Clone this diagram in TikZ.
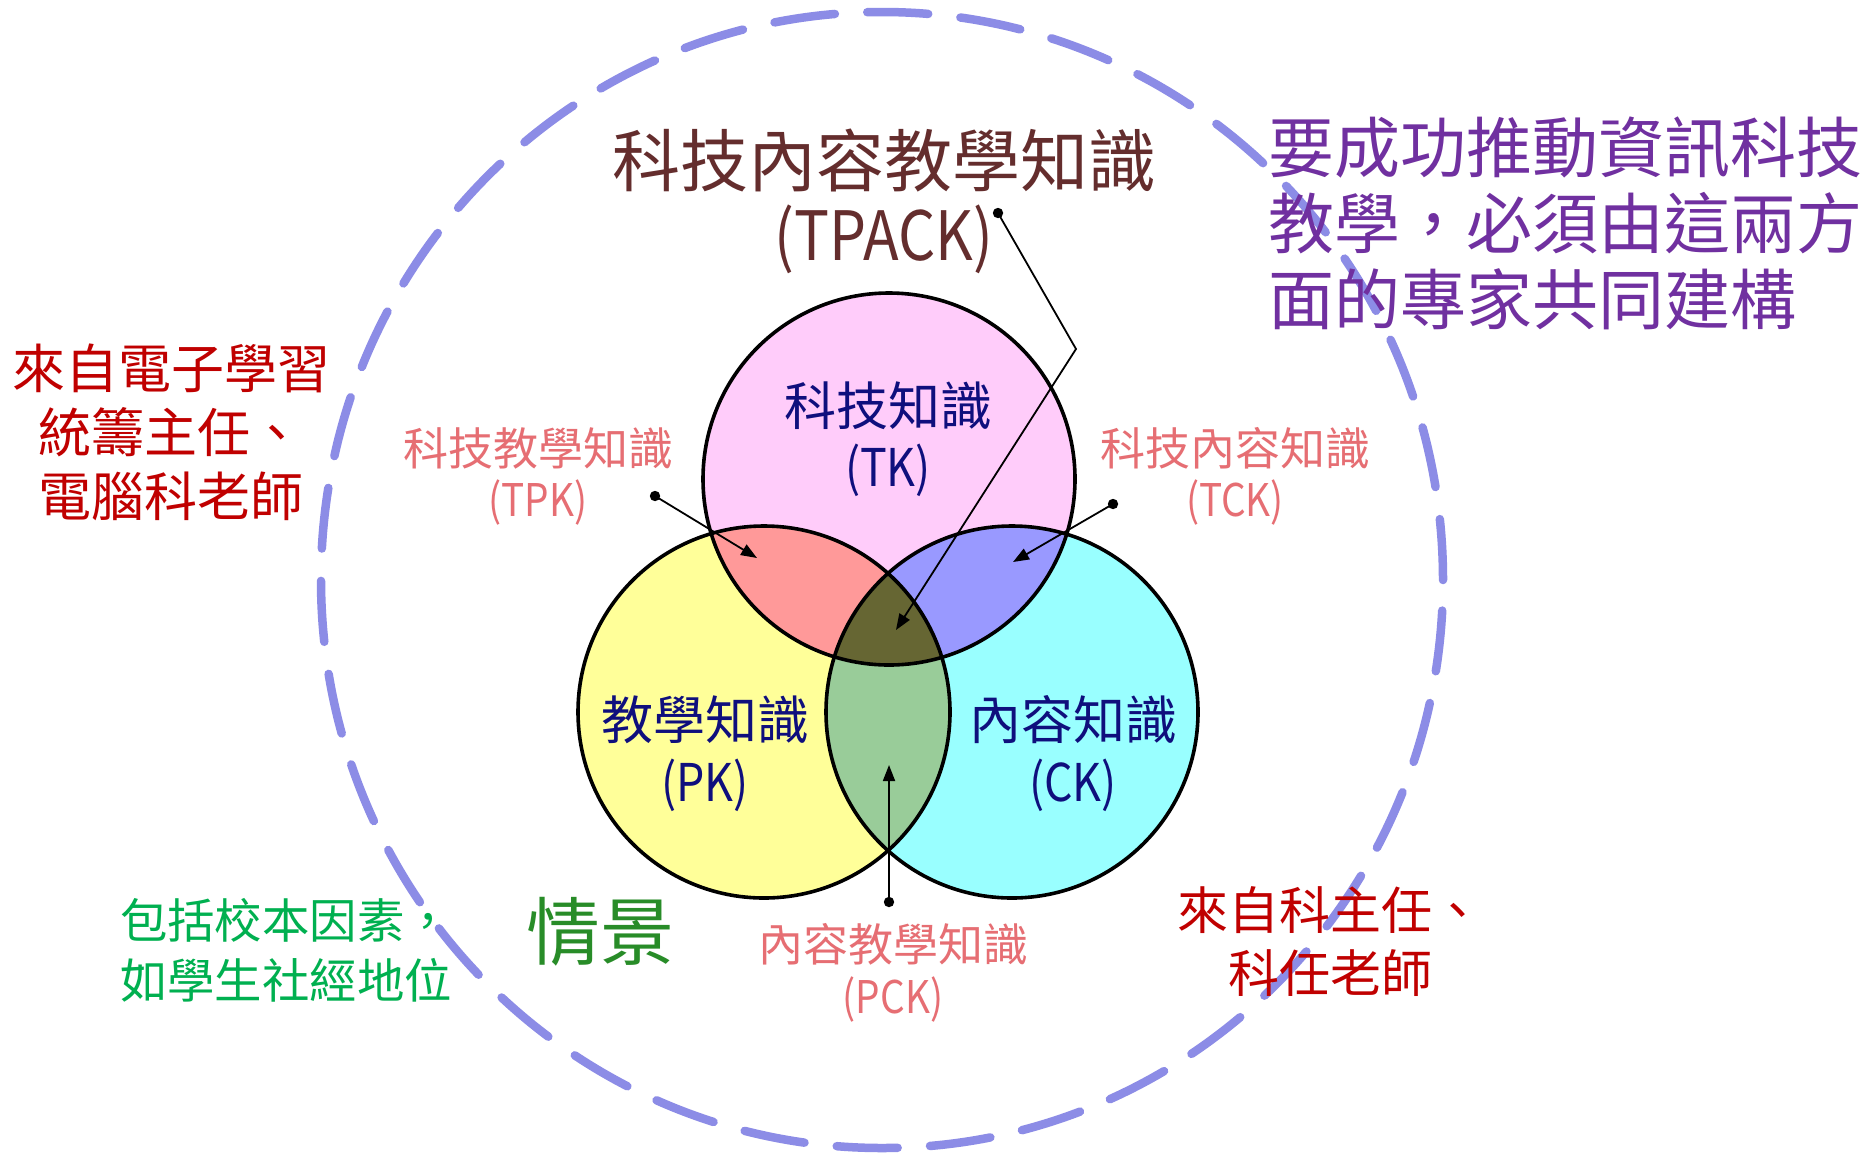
\documentclass[tikz,border=0pt]{standalone}
\usepackage{fontspec}
\usetikzlibrary{arrows.meta}
\newfontfamily\cjk{Noto Sans CJK TC}
\newfontfamily\latn[FakeStretch=0.86]{Noto Sans CJK TC}
\definecolor{ringc}{RGB}{140,140,230}
\definecolor{tkc}{RGB}{255,204,250}
\definecolor{pkc}{RGB}{255,255,153}
\definecolor{ckc}{RGB}{153,255,255}
\definecolor{tpkc}{RGB}{255,153,153}
\definecolor{tckc}{RGB}{153,153,255}
\definecolor{pckc}{RGB}{153,204,153}
\definecolor{allc}{RGB}{102,102,51}
\definecolor{maroon}{RGB}{100,45,45}
\definecolor{navyc}{RGB}{15,15,125}
\definecolor{pinkc}{RGB}{230,110,115}
\definecolor{ctxgreen}{RGB}{40,140,40}
\definecolor{purplec}{RGB}{112,48,160}
\definecolor{redc}{RGB}{192,0,0}
\definecolor{greenc}{RGB}{0,176,80}
\begin{document}
\begin{tikzpicture}[x=0.5pt,y=-0.5pt,
  lbl/.style={inner sep=0pt, outer sep=0pt},
  ttl/.style={lbl, text=maroon, font=\cjk\fontsize{34pt}{40pt}\selectfont},
  ttllat/.style={lbl, text=maroon, font=\latn\fontsize{34pt}{40pt}\selectfont},
  main/.style={lbl, text=navyc, font=\cjk\fontsize{26pt}{30pt}\selectfont},
  mainlat/.style={lbl, text=navyc, font=\latn\fontsize{26pt}{30pt}\selectfont},
  mix/.style={lbl, text=pinkc, font=\cjk\fontsize{22.5pt}{26pt}\selectfont},
  mixlat/.style={lbl, text=pinkc, font=\latn\fontsize{22.5pt}{26pt}\selectfont},
  arr/.style={draw=black, line width=0.9pt, -{Triangle[length=8pt,width=6pt]}},
  dotc/.style={fill=black},
  circ/.style={draw=black, line width=1.8pt}
]
\useasboundingbox (0,0) rectangle (1874,1152);
\fill[white] (0,0) rectangle (1874,1152);
\def\R{93pt}
\coordinate (tk) at (889,479);
\coordinate (pk) at (764,712);
\coordinate (ck) at (1012,712);
% outer context ring
\draw[ringc, line width=4.25pt, line cap=round, dash pattern=on 30.5pt off 16.2pt]
  (882,580) ellipse[x radius=280.5pt, y radius=284pt];
% venn fills
\fill[pkc] (pk) circle[radius=\R];
\fill[ckc] (ck) circle[radius=\R];
\fill[tkc] (tk) circle[radius=\R];
\begin{scope}\clip (tk) circle[radius=\R]; \fill[tpkc] (pk) circle[radius=\R];\end{scope}
\begin{scope}\clip (tk) circle[radius=\R]; \fill[tckc] (ck) circle[radius=\R];\end{scope}
\begin{scope}\clip (pk) circle[radius=\R]; \fill[pckc] (ck) circle[radius=\R];\end{scope}
\begin{scope}\clip (tk) circle[radius=\R]; \clip (pk) circle[radius=\R]; \fill[allc] (ck) circle[radius=\R];\end{scope}
\draw[circ] (pk) circle[radius=\R];
\draw[circ] (ck) circle[radius=\R];
\draw[circ] (tk) circle[radius=\R];
% titles
\node[ttl] (tpackA) at (884,161) {科技內容教學知識};
\node[ttllat] (tpackB) at (884,239) {(TPACK)};
\node[main] (tkA) at (888,406) {科技知識};
\node[mainlat] (tkB) at (888,470) {(TK)};
\node[main] (pkA) at (705,720) {教學知識};
\node[mainlat] (pkB) at (705,785) {(PK)};
\node[main] (ckA) at (1073,720) {內容知識};
\node[mainlat] (ckB) at (1073,785) {(CK)};
\node[mix] (tpkA) at (538,448) {科技教學知識};
\node[mixlat] (tpkB) at (538,502) {(TPK)};
\node[mix] (tckA) at (1235,448) {科技內容知識};
\node[mixlat] (tckB) at (1235,502) {(TCK)};
\node[mix] (pckA) at (893,944) {內容教學知識};
\node[mixlat] (pckB) at (893,999) {(PCK)};
\node[lbl, text=ctxgreen, font=\cjk\fontsize{37pt}{40pt}\selectfont] (ctx) at (600,932) {情景};
% pointers
\coordinate (tpackdot) at (998,213);
\coordinate (tpackbend) at (1076,349);
\coordinate (tpacktip) at (896,630);
\coordinate (tpkdot) at (655,496);
\coordinate (tpktip) at (757,558);
\coordinate (tckdot) at (1113,504);
\coordinate (tcktip) at (1013,562);
\coordinate (pckdot) at (889,902);
\coordinate (pcktip) at (889,765);
\draw[arr] (tpackdot) -- (tpackbend) -- (tpacktip);
\draw[arr] (tpkdot) -- (tpktip);
\draw[arr] (tckdot) -- (tcktip);
\draw[arr] (pckdot) -- (pcktip);
\fill[dotc] (tpackdot) circle[radius=2.6pt];
\fill[dotc] (tpkdot) circle[radius=2.6pt];
\fill[dotc] (tckdot) circle[radius=2.6pt];
\fill[dotc] (pckdot) circle[radius=2.6pt];
% callouts
\node[lbl, anchor=west, align=left, text=purplec, font=\cjk\fontsize{33pt}{38pt}\selectfont]
  (note) at (1268,223) {要成功推動資訊科技\\教學，必須由這兩方\\面的專家共同建構};
\node[lbl, align=center, text=redc, font=\cjk\fontsize{26.5pt}{32pt}\selectfont]
  (elearn) at (171,432) {來自電子學習\\統籌主任、\\電腦科老師};
\node[lbl, align=center, text=redc, font=\cjk\fontsize{25.5pt}{31.5pt}\selectfont]
  (subj) at (1330,942) {來自科主任、\\科任老師};
\node[lbl, anchor=west, align=left, text=greenc, font=\cjk\fontsize{23.7pt}{30pt}\selectfont]
  (school) at (120,950) {包括校本因素，\\如學生社經地位};
\end{tikzpicture}
\end{document}
